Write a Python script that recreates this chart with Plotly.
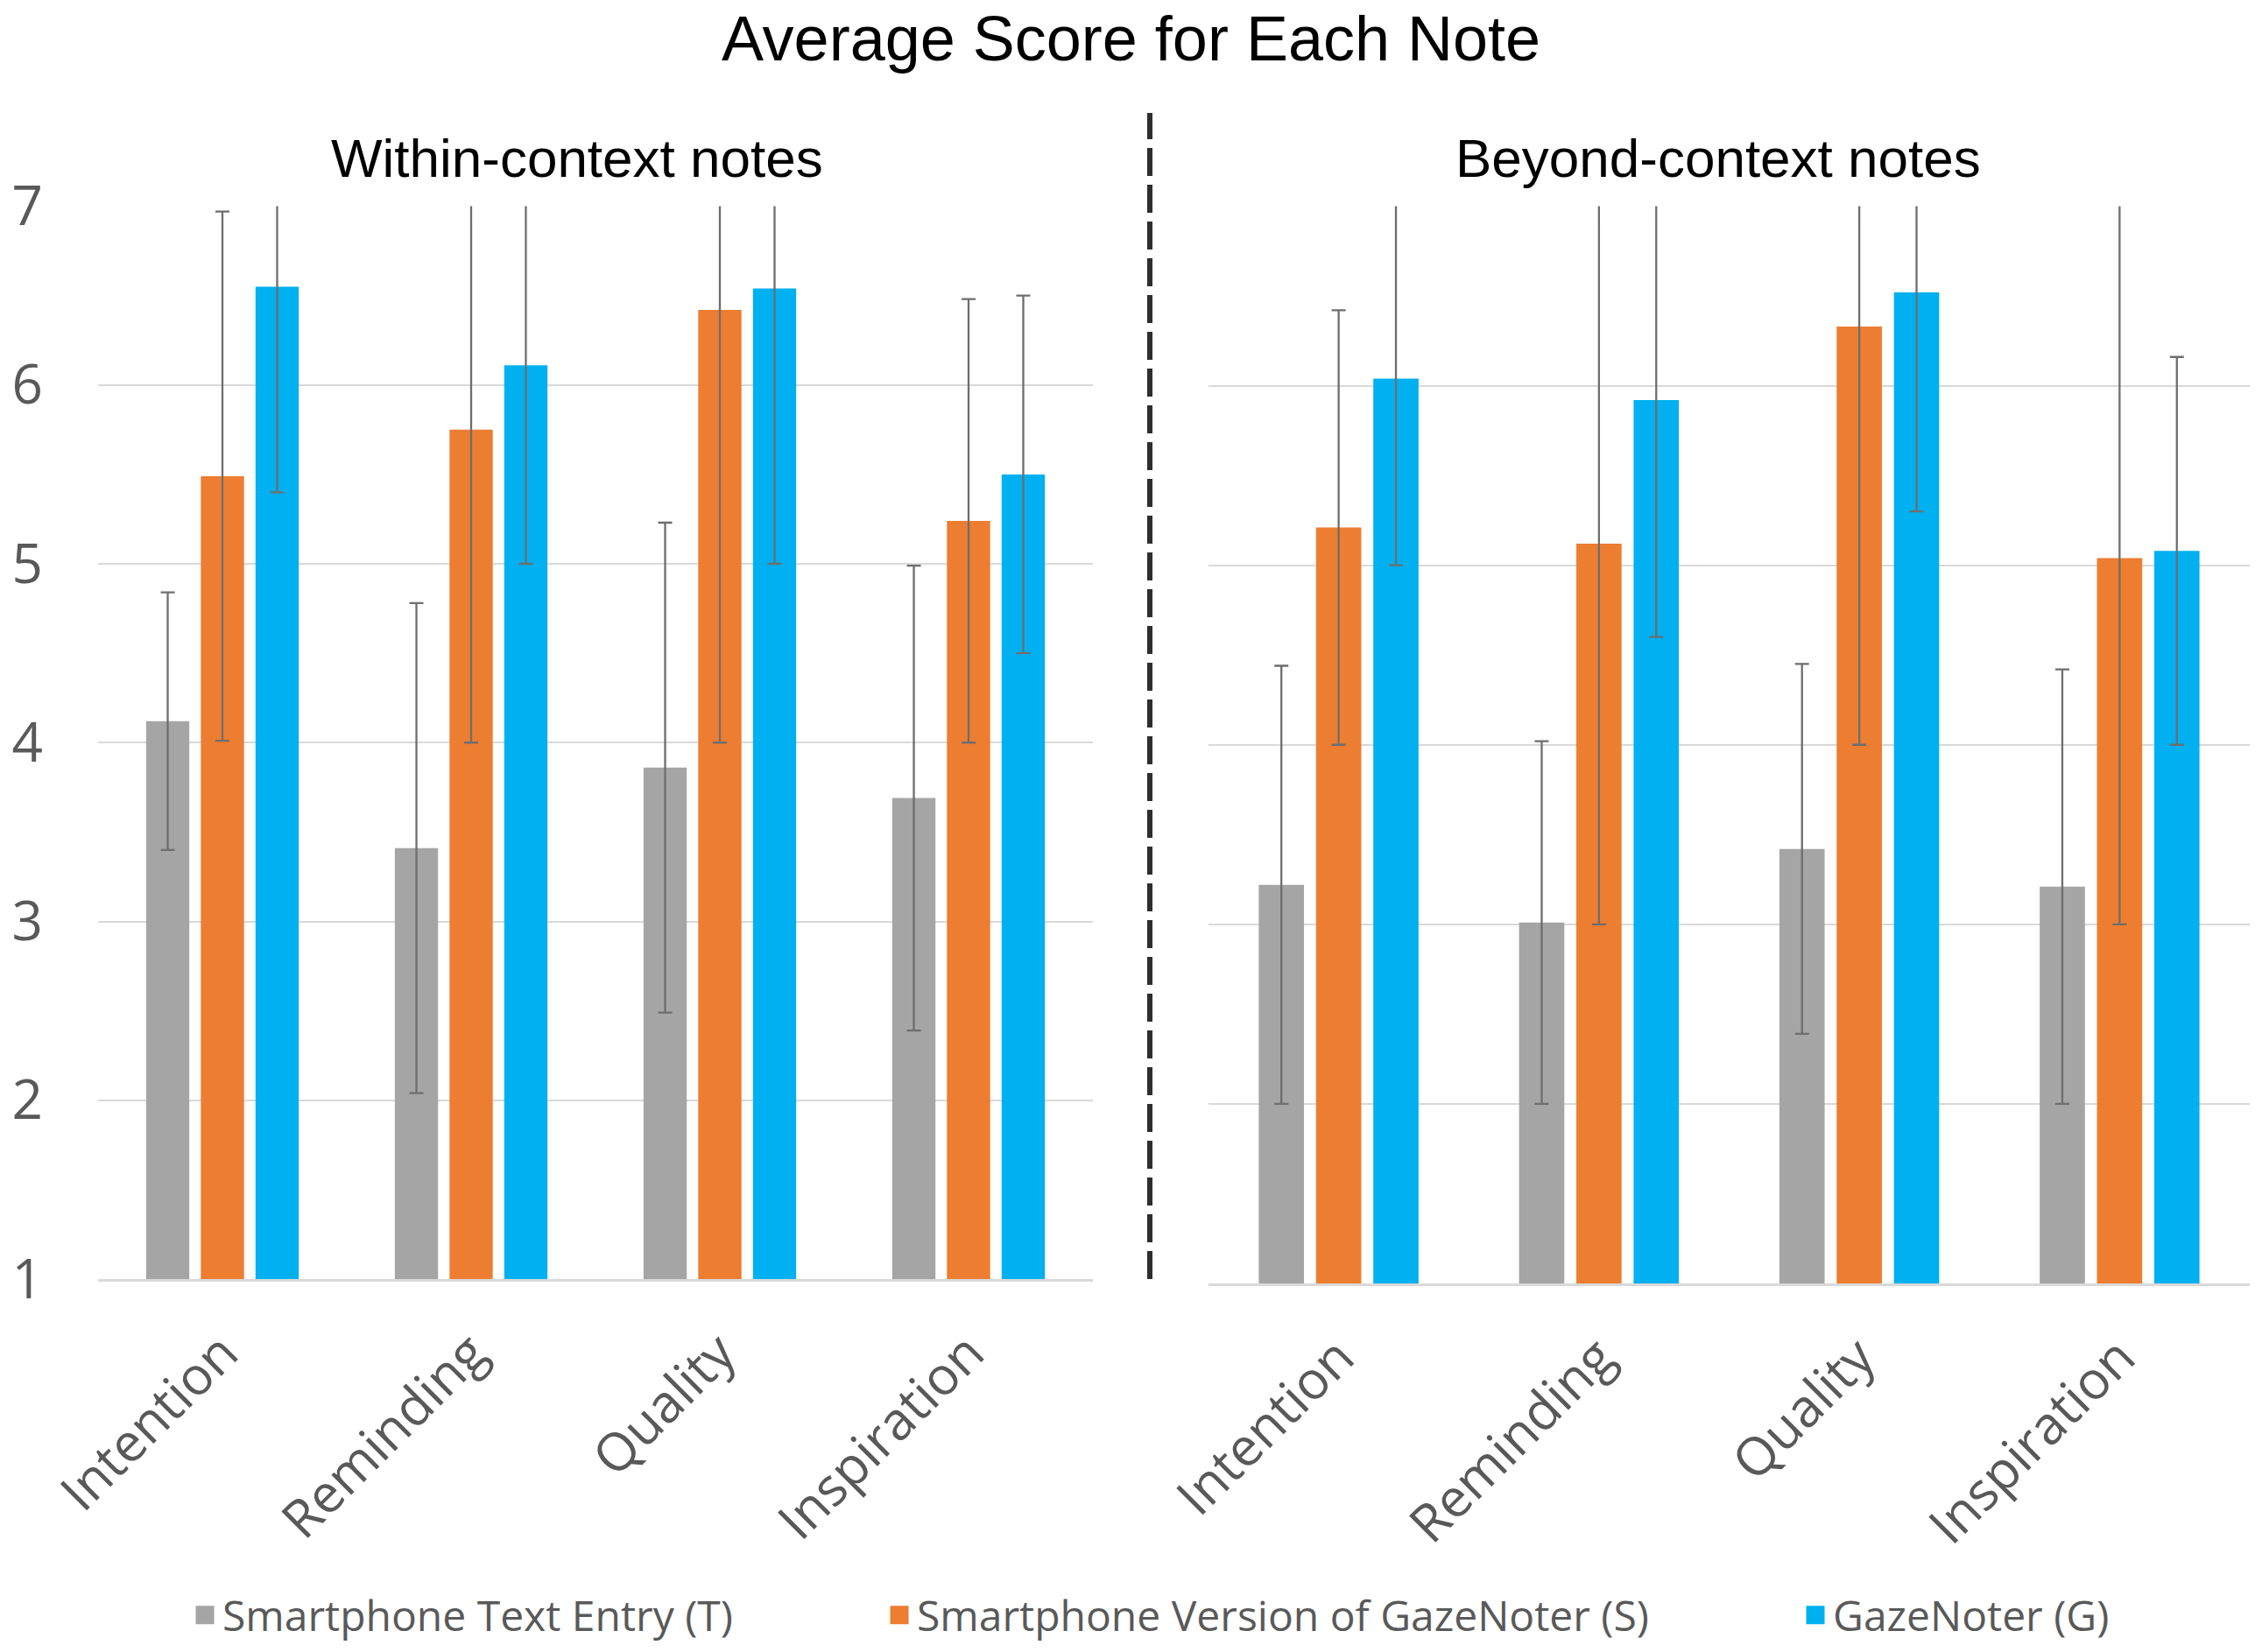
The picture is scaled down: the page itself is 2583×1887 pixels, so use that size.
import plotly.graph_objects as go

categories = ["Intention", "Reminding", "Quality", "Inspiration"]
series_names = ["Smartphone Text Entry (T)", "Smartphone Version of GazeNoter (S)", "GazeNoter (G)"]
colors = ["#A5A5A5", "#ED7D31", "#00B0F0"]

# Within-context notes
within_T = [4.12, 3.41, 3.86, 3.69]
within_S = [5.49, 5.75, 6.42, 5.24]
within_G = [6.55, 6.11, 6.54, 5.50]
within_T_sd = [0.72, 1.37, 1.37, 1.30]
within_S_sd = [1.48, 1.75, 2.42, 1.24]
within_G_sd = [1.15, 1.11, 1.54, 1.00]

# Beyond-context notes
beyond_T = [3.22, 3.01, 3.42, 3.21]
beyond_S = [5.21, 5.12, 6.33, 5.04]
beyond_G = [6.04, 5.92, 6.52, 5.08]
beyond_T_sd = [1.22, 1.01, 1.03, 1.21]
beyond_S_sd = [1.21, 2.12, 2.33, 2.04]
beyond_G_sd = [1.04, 1.32, 1.22, 1.08]

y_ticks = [1, 2, 3, 4, 5, 6, 7]

W, H = 2583, 1887
fig = go.Figure()

within = [(within_T, within_T_sd), (within_S, within_S_sd), (within_G, within_G_sd)]
beyond = [(beyond_T, beyond_T_sd), (beyond_S, beyond_S_sd), (beyond_G, beyond_G_sd)]
legends = ["legend", "legend2", "legend3"]

for i, (vals, sd) in enumerate(within):
    fig.add_trace(go.Bar(
        x=categories, y=vals, name=series_names[i], marker_color=colors[i],
        marker_line_width=0, xaxis="x", yaxis="y", showlegend=False,
        error_y=dict(type="data", array=sd, visible=True, color="#6E6E6E",
                     thickness=2.3, width=8),
    ))
for i, (vals, sd) in enumerate(beyond):
    fig.add_trace(go.Bar(
        x=categories, y=vals, name=series_names[i], marker_color=colors[i],
        marker_line_width=0, xaxis="x2", yaxis="y2", showlegend=False,
        error_y=dict(type="data", array=sd, visible=True, color="#6E6E6E",
                     thickness=2.3, width=8),
    ))
# legend entries (square swatches)
for i in range(3):
    fig.add_trace(go.Scatter(
        x=[None], y=[None], mode="markers", name=series_names[i], legend=legends[i],
        marker=dict(symbol="square", size=16, color=colors[i],
                    line=dict(color=colors[i], width=5)),
        xaxis="x", yaxis="y", showlegend=True, hoverinfo="skip",
    ))

tick_font = dict(family="Open Sans", size=60, color="#595959")
axis_common = dict(showgrid=False, showline=True, linecolor="#D9D9D9", linewidth=3,
                   ticks="", tickangle=-45, tickfont=tick_font, ticklabelstandoff=22,
                   automargin=False)
yaxis_common = dict(range=[1, 7], tickvals=y_ticks, showgrid=True, gridcolor="#D9D9D9",
                    gridwidth=2, zeroline=False, showline=False, ticks="", automargin=False)

fig.update_layout(
    width=W, height=H,
    margin=dict(l=0, r=0, t=0, b=0, autoexpand=False),
    paper_bgcolor="white", plot_bgcolor="white",
    barmode="group", bargap=0.34, bargroupgap=0.21,
    font=dict(family="Open Sans", color="#595959"),
    title=dict(text="Average Score for Each Note", x=0.5, xanchor="center",
               y=1 - 44 / H, yanchor="middle", automargin=False,
               font=dict(family="Liberation Sans", size=72, color="black")),
    xaxis=dict(domain=[112 / W, 1248 / W], anchor="y", **axis_common),
    xaxis2=dict(domain=[1380 / W, 2569 / W], anchor="y2", **axis_common),
    yaxis=dict(domain=[1 - 1461 / H, 1 - 235.5 / H], anchor="x",
               tickfont=dict(family="Open Sans", size=62, color="#595959"),
               ticklabelstandoff=62, **yaxis_common),
    yaxis2=dict(domain=[1 - 1466 / H, 1 - 235.5 / H], anchor="x2",
                showticklabels=False, **yaxis_common),
    annotations=[
        dict(text="Within-context notes", x=659 / W, y=1 - 181 / H, xref="paper", yref="paper",
             xanchor="center", yanchor="middle", showarrow=False,
             font=dict(family="Liberation Sans", size=62, color="black")),
        dict(text="Beyond-context notes", x=1962 / W, y=1 - 181 / H, xref="paper", yref="paper",
             xanchor="center", yanchor="middle", showarrow=False,
             font=dict(family="Liberation Sans", size=62, color="black")),
    ],
    shapes=[
        dict(type="line", xref="paper", yref="paper", x0=1313 / W, x1=1313 / W,
             y0=1 - 1461 / H, y1=1 - 129 / H,
             line=dict(color="#2E2E2E", width=6, dash="32px,10px")),
    ],
)

legend_font = dict(family="Open Sans", size=48, color="#595959")
leg_x = [214, 1007, 2053]
for name, lx in zip(legends, leg_x):
    fig.update_layout({name: dict(x=lx / W, y=1 - 1845 / H, xanchor="left", yanchor="middle",
                                  orientation="h", font=legend_font, bgcolor="rgba(0,0,0,0)",
                                  itemwidth=30, itemsizing="trace")})

fig.write_html("out.html", post_script="document.body.style.margin='0';",
               config={"displayModeBar": False})
